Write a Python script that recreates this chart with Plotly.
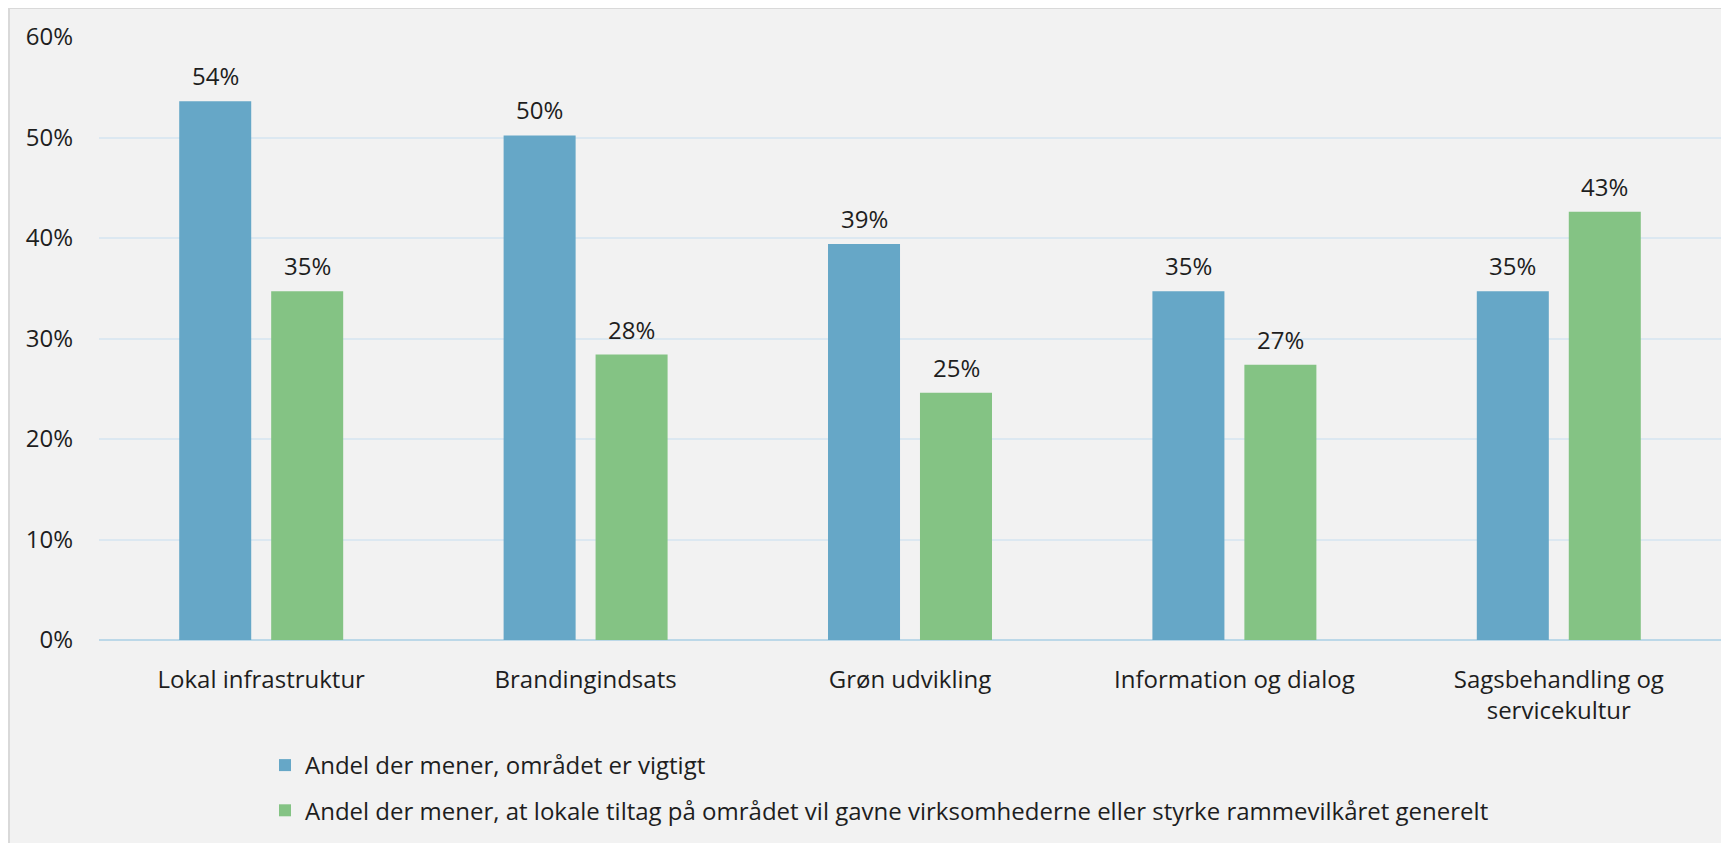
import plotly.graph_objects as go

categories = ["Lokal infrastruktur", "Brandingindsats", "Grøn udvikling",
              "Information og dialog", "Sagsbehandling og<br>servicekultur"]
series_names = ["Andel der mener, området er vigtigt",
                "Andel der mener, at lokale tiltag på området vil gavne virksomhederne eller styrke rammevilkåret generelt"]
important = [53.6, 50.2, 39.4, 34.7, 34.7]
benefit = [34.7, 28.4, 24.6, 27.4, 42.6]
tick_vals = [0, 10, 20, 30, 40, 50, 60]
tick_text = ["0%", "10%", "20%", "30%", "40%", "50%", "60%"]

colors = ["#66a7c7", "#84c384"]
font_family = "Open Sans"
font_color = "#1e1e1e"
fs = 24

fig = go.Figure()
for i, (name, vals) in enumerate(zip(series_names, [important, benefit])):
    fig.add_trace(go.Bar(
        x=categories, y=vals, name=name, marker_color=colors[i],
        marker_line_width=0, legendgroup=f"g{i}", hoverinfo="skip"))

annotations = []
for i, vals in enumerate([important, benefit]):
    for c, v in zip(categories, vals):
        annotations.append(dict(
            x=c, y=v, xref="x", yref="y", text=f"{round(v):d}%",
            showarrow=False, yanchor="bottom", xanchor="center",
            xshift=-46 if i == 0 else 46, yshift=7,
            font=dict(family=font_family, size=fs, color=font_color)))

# figure geometry (the page adds an 8px body margin)
OFF = 8
W, H = 1729, 843
L, T = 99 - OFF, 37 - OFF
R = W - (1721 - OFF)
B = H - (640 - OFF)
pw, ph = W - L - R, H - T - B

def px(x_page):
    return (x_page - OFF - L) / pw

def py(y_page):
    return (H - B - (y_page - OFF)) / ph

shapes = [dict(type="rect", xref="paper", yref="paper", layer="below",
               x0=px(OFF + 1), x1=px(W + 40), y0=py(H + 40), y1=py(OFF),
               fillcolor="rgba(0,0,0,0)", line=dict(color="#d9d9d9", width=2))]

fig.update_layout(
    width=W, height=H,
    margin=dict(l=L, r=R, t=T, b=B, pad=0),
    paper_bgcolor="#f2f2f2", plot_bgcolor="rgba(0,0,0,0)",
    barmode="group", bargap=0.433, bargroupgap=0.217,
    font=dict(family=font_family, size=fs, color=font_color),
    shapes=shapes, annotations=annotations,
    showlegend=True,
    legend=dict(orientation="v", x=px(265), y=py(743), xanchor="left", yanchor="top",
                bgcolor="rgba(0,0,0,0)", tracegroupgap=11,
                font=dict(family=font_family, size=fs, color=font_color)),
    xaxis=dict(showgrid=False, showline=False, ticks="", ticklabelstandoff=23,
               tickfont=dict(size=fs), fixedrange=True),
    yaxis=dict(range=[0, 60], tickvals=tick_vals, ticktext=tick_text,
               showgrid=True, gridcolor="#dce8f1", gridwidth=1.5,
               zeroline=True, zerolinecolor="#bcd8e8", zerolinewidth=2,
               showline=False, ticks="", ticklabelstandoff=25,
               tickfont=dict(size=fs), fixedrange=True),
)

fig.write_html("out.html")
